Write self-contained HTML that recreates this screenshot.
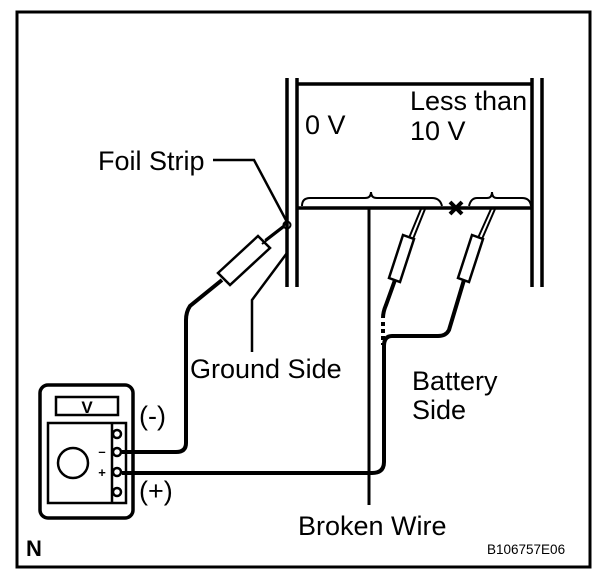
<!DOCTYPE html>
<html><head><style>body{margin:0;background:#fff}svg{display:block}text{font-family:"Liberation Sans",sans-serif;fill:#000}</style></head>
<body>
<svg width="608" height="576" viewBox="0 0 608 576" xmlns="http://www.w3.org/2000/svg">
<rect x="17" y="12" width="573" height="555" fill="none" stroke="#000" stroke-width="3"/>
<g stroke="#000" fill="none" stroke-width="3">
<path d="M287 78V287M297 78V287M532 78V287M542 78V287" stroke-width="3.5"/>
<path d="M297 84H532M297 208H532" stroke-width="3.5"/>
<path d="M302 206q0-8 8-8h55q6 0 6-6q0 6 6 6h55q8 0 10 8" stroke-width="2"/>
<path d="M469 206q2-8 8-8h10q5 0 5-6q0 6 5 6h25q8 0 9 8" stroke-width="2"/>
<path d="M369 208V505"/>
<path d="M213 160H254L287 222" stroke-width="2.5"/>
<path d="M287 253L252 300V352" stroke-width="2.5"/>
<path d="M287 223L265 240" stroke-width="2"/>
<path d="M284 227L262 244" stroke-width="2"/>
<path d="M258 236L270 248L230 285L218 273Z" stroke-width="2.5"/>
<path d="M222 280L190 306Q186 312 186 320V443Q186 452 176 452H122" stroke-width="4"/>
<circle cx="287" cy="225" r="3.5" stroke-width="2"/>
<path d="M421 209L409 238M425 209L413 239" stroke-width="2"/>
<path d="M403 235L414 239L400 282L389 278Z" stroke-width="2.5"/>
<path d="M395 280L386 305Q383 312 383 318" stroke-width="4"/>
<path d="M383 322V345" stroke-dasharray="4 3" stroke-width="4"/>
<path d="M491 209L478 238M495 209L482 239" stroke-width="2"/>
<path d="M472 235L483 239L469 282L458 278Z" stroke-width="2.5"/>
<path d="M464 280L449 330Q446 336 438 336H392Q384 336 384 346V462Q384 473 372 473H122" stroke-width="4"/>
<rect x="40" y="385" width="93" height="133" rx="8" stroke-width="3.5"/>
<rect x="56" y="397" width="62" height="18" stroke-width="2.5"/>
<rect x="48" y="423" width="78" height="80" stroke-width="2.5"/>
<path d="M112 423V503" stroke-width="2.5"/>
<circle cx="73" cy="463" r="15" stroke-width="2.5"/>
<circle cx="117" cy="434" r="4" stroke-width="2.5"/>
<circle cx="117" cy="452" r="4" stroke-width="2.5"/>
<circle cx="117" cy="472" r="4" stroke-width="2.5"/>
<circle cx="117" cy="492" r="4" stroke-width="2.5"/>
</g>
<path d="M450 202L462 214M462 202L450 214" stroke="#000" stroke-width="4"/>
<text x="87" y="413" font-size="17" font-weight="bold" text-anchor="middle">V</text>
<text x="102" y="456" font-size="13" font-weight="bold" text-anchor="middle">–</text>
<text x="102" y="477" font-size="13" font-weight="bold" text-anchor="middle">+</text>
<g font-size="27">
<text x="98" y="170">Foil Strip</text>
<text x="305" y="134">0 V</text>
<text x="410" y="110">Less than</text>
<text x="410" y="140">10 V</text>
<text x="190" y="378">Ground Side</text>
<text x="412" y="390">Battery</text>
<text x="412" y="419">Side</text>
<text x="139" y="425">(-)</text>
<text x="139" y="500">(+)</text>
<text x="298" y="535">Broken Wire</text>
<text x="26" y="556" font-weight="bold" font-size="22">N</text>
</g>
<text x="487" y="554" font-size="13.5">B106757E06</text>
</svg>
</body></html>
